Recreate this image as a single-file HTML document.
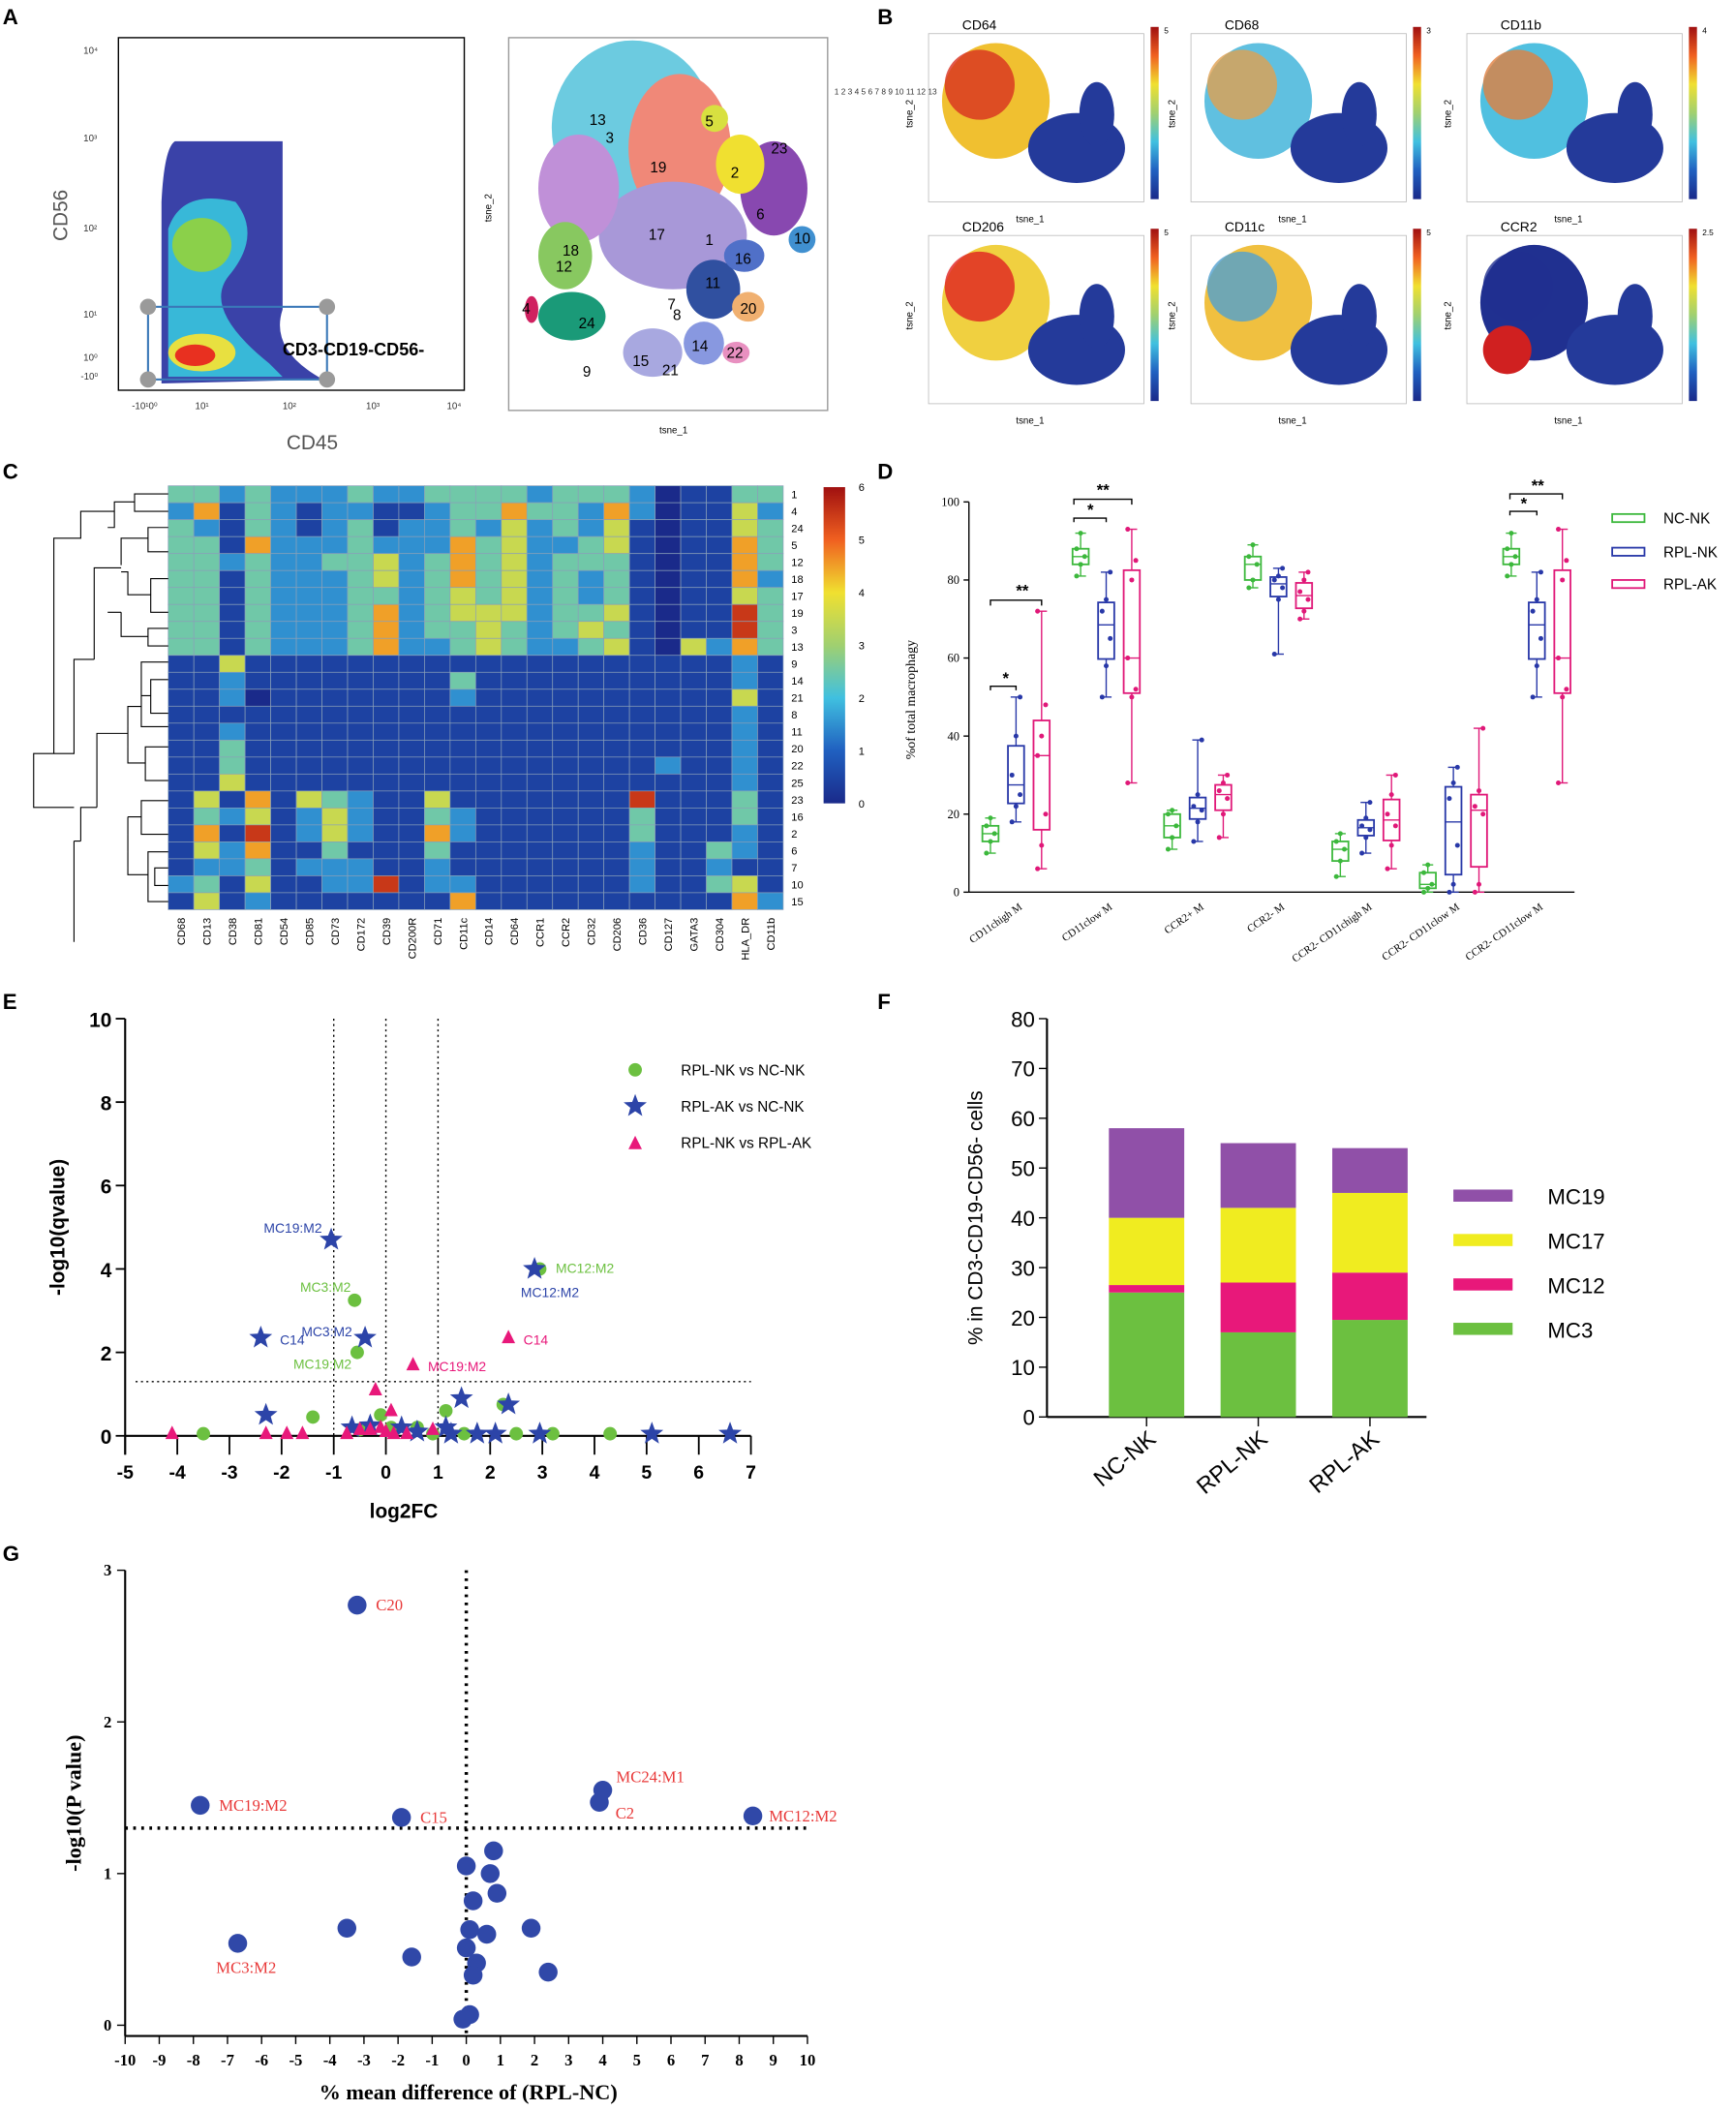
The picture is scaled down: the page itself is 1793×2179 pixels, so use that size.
<!DOCTYPE html>
<html><head><meta charset="utf-8"><style>
html,body{margin:0;padding:0;background:#fff}
svg{display:block}
svg{font-family:"Liberation Sans",sans-serif}
</style></head><body>
<svg id="fig" width="1793" height="2179" viewBox="0 0 1290 1568" preserveAspectRatio="none" xmlns="http://www.w3.org/2000/svg">
<g font-weight="bold" font-size="16">
<text x="2" y="18">A</text><text x="652" y="18">B</text><text x="2" y="356">C</text><text x="652" y="356">D</text>
<text x="2" y="750">E</text><text x="652" y="750">F</text><text x="2" y="1160">G</text>
</g>
<g>
<rect x="88" y="28" width="257" height="262" fill="none" stroke="#000"/>
<path d="M120 285 L120 150 Q122 110 130 105 L210 105 L210 230 Q200 260 240 282 Z" fill="#3a42a8"/>
<path d="M125 280 L125 170 Q135 140 175 150 Q195 175 170 205 Q150 230 200 270 L210 280 Z" fill="#38b8d8"/>
<ellipse cx="150" cy="182" rx="22" ry="20" fill="#8bd04a"/>
<ellipse cx="150" cy="262" rx="25" ry="14" fill="#e8e040"/>
<ellipse cx="145" cy="264" rx="15" ry="8" fill="#e83020"/>
<rect x="110" y="228" width="133" height="54" fill="none" stroke="#3a78b8" stroke-width="1.5"/>
<circle cx="110" cy="228" r="6" fill="#9a9a9a"/><circle cx="243" cy="228" r="6" fill="#9a9a9a"/>
<circle cx="110" cy="282" r="6" fill="#9a9a9a"/><circle cx="243" cy="282" r="6" fill="#9a9a9a"/>
<text x="210" y="264" font-size="13" font-weight="bold">CD3-CD19-CD56-</text>
<text x="50" y="160" font-size="15" fill="#555" transform="rotate(-90 50 160)" text-anchor="middle">CD56</text>
<text x="232" y="334" font-size="15" fill="#555" text-anchor="middle">CD45</text>
<g font-size="7" fill="#333"><text x="62" y="40">10⁴</text><text x="62" y="105">10³</text><text x="62" y="172">10²</text><text x="62" y="236">10¹</text><text x="62" y="268">10⁰</text><text x="60" y="282">-10⁰</text>
<text x="98" y="304">-10¹0⁰</text><text x="145" y="304">10¹</text><text x="210" y="304">10²</text><text x="272" y="304">10³</text><text x="332" y="304">10⁴</text></g>
</g>
<g>
<rect x="378" y="28" width="237" height="277" fill="none" stroke="#999"/>
<ellipse cx="470" cy="95" rx="60" ry="65" fill="#6ccbe0"/>
<ellipse cx="505" cy="110" rx="38" ry="55" fill="#f08878"/>
<ellipse cx="500" cy="175" rx="55" ry="40" fill="#a898d8"/>
<ellipse cx="430" cy="140" rx="30" ry="40" fill="#c090d8"/>
<ellipse cx="420" cy="190" rx="20" ry="25" fill="#88c860"/>
<ellipse cx="425" cy="235" rx="25" ry="18" fill="#1a9a78"/>
<ellipse cx="575" cy="140" rx="25" ry="35" fill="#8848b0"/>
<ellipse cx="550" cy="122" rx="18" ry="22" fill="#f0e030"/>
<ellipse cx="531" cy="88" rx="10" ry="10" fill="#d8e040"/>
<ellipse cx="530" cy="215" rx="20" ry="22" fill="#3050a0"/>
<ellipse cx="553" cy="190" rx="15" ry="12" fill="#5070c8"/>
<ellipse cx="556" cy="228" rx="12" ry="11" fill="#f0b070"/>
<ellipse cx="523" cy="255" rx="15" ry="16" fill="#8898e0"/>
<ellipse cx="485" cy="262" rx="22" ry="18" fill="#a8a8e0"/>
<ellipse cx="547" cy="262" rx="10" ry="8" fill="#e890c0"/>
<ellipse cx="596" cy="178" rx="10" ry="10" fill="#4090d0"/>
<ellipse cx="395" cy="230" rx="5" ry="10" fill="#d02060"/>
<g font-size="11"><text x="438" y="93">13</text><text x="450" y="106">3</text><text x="483" y="128">19</text><text x="482" y="178">17</text><text x="418" y="190">18</text><text x="413" y="202">12</text><text x="430" y="244">24</text><text x="524" y="94">5</text><text x="543" y="132">2</text><text x="573" y="114">23</text><text x="562" y="163">6</text><text x="590" y="181">10</text><text x="546" y="196">16</text><text x="524" y="182">1</text><text x="524" y="214">11</text><text x="550" y="233">20</text><text x="514" y="261">14</text><text x="540" y="266">22</text><text x="470" y="272">15</text><text x="492" y="279">21</text><text x="433" y="280">9</text><text x="496" y="230">7</text><text x="500" y="238">8</text><text x="388" y="233">4</text></g>
<text x="365" y="165" font-size="7" transform="rotate(-90 365 165)">tsne_2</text>
<text x="490" y="322" font-size="7">tsne_1</text>
<g font-size="6" fill="#333"><text x="620" y="70">1 2 3 4 5 6 7 8 9 10 11 12 13</text></g>
</g>
<g id="panelB"></g>
<g id="panelC"></g>
<g id="panelD"></g>
<g id="panelE"></g>
<g id="panelF"></g>
<g id="panelG"></g>
</svg>
<script>
const NS='http://www.w3.org/2000/svg';
function el(parent,tag,attrs,txt){const e=document.createElementNS(NS,tag);for(const k in attrs){if(k==='font-family')e.setAttribute('style','font-family:"'+attrs[k]+'",serif');else e.setAttribute(k,attrs[k]);}if(txt!==undefined)e.textContent=txt;parent.appendChild(e);return e;}

const featureNames=['CD64','CD68','CD11b','CD206','CD11c','CCR2'];
const featureMax=['5','3','4','5','5','2.5'];
(function(){const g=document.getElementById('panelB');
const pos=[[700,25],[895,25],[1100,25],[700,175],[895,175],[1100,175]];
const hot=[['#d83020','#f0c030'],['#e0a050','#60c0e0'],['#e08040','#50c0e0'],['#e02020','#f0d040'],['#50a0d0','#f0c040'],['#203090','#203090']];
featureNames.forEach((n,i)=>{const [x,y]=pos[i];
 const gg=el(g,'g',{});
 el(gg,'rect',{x:x-10,y:y,width:160,height:125,fill:'none',stroke:'#bbb','stroke-width':0.6});
 el(gg,'ellipse',{cx:x+40,cy:y+50,rx:40,ry:43,fill:hot[i][1]});
 el(gg,'ellipse',{cx:x+28,cy:y+38,rx:26,ry:26,fill:hot[i][0],opacity:0.8});
 el(gg,'ellipse',{cx:x+100,cy:y+85,rx:36,ry:26,fill:'#243a9a'});
 el(gg,'ellipse',{cx:x+115,cy:y+60,rx:13,ry:24,fill:'#243a9a'});
 if(i==5){el(gg,'ellipse',{cx:x+20,cy:y+85,rx:18,ry:18,fill:'#d02020'});}
 el(gg,'text',{x:x+15,y:y-3,'font-size':10},n);
 const cb=el(gg,'rect',{x:x+155,y:y-5,width:6,height:128});
 el(gg,'text',{x:x+165,y:y,'font-size':6},featureMax[i]);
 el(gg,'text',{x:x+55,y:y+140,'font-size':7},'tsne_1');
 el(gg,'text',{x:x-22,y:y+70,'font-size':7,transform:`rotate(-90 ${x-22} ${y+70})`},'tsne_2');
 cb.setAttribute('fill','url(#jet)');
});})();

(function(){const s=document.getElementById('fig');const d=el(s,'defs',{});const lg=el(d,'linearGradient',{id:'jet',x1:0,y1:1,x2:0,y2:0});
['#1a2a8a','#2060c0','#40c0e0','#a0d070','#f0e030','#f06020','#a01010'].forEach((c,i)=>el(lg,'stop',{offset:i/6,'stop-color':c}));})();

const hmRows=['1','4','24','5','12','18','17','19','3','13','9','14','21','8','11','20','22','25','23','16','2','6','7','10','15'];
const hmCols=['CD68','CD13','CD38','CD81','CD54','CD85','CD73','CD172','CD39','CD200R','CD71','CD11c','CD14','CD64','CCR1','CCR2','CD32','CD206','CD36','CD127','GATA3','CD304','HLA_DR','CD11b'];
const hmValues=[
[3,3,2,3,2,2,2,3,2,2,3,3,3,3,2,3,3,3,2,0,1,1,3,3],
[2,5,1,3,2,1,2,2,1,1,2,3,3,5,3,3,2,5,2,0,1,1,4,2],
[3,2,1,3,2,1,2,3,1,2,2,3,2,4,2,3,2,4,1,0,1,1,4,3],
[3,3,1,5,2,2,2,3,2,2,2,5,3,4,2,2,3,4,1,0,1,1,5,3],
[3,3,2,3,2,2,3,3,4,2,3,5,3,4,2,3,3,3,1,0,1,1,5,3],
[3,3,1,3,2,2,2,3,4,2,3,5,3,4,2,3,2,3,1,0,1,1,5,2],
[3,3,1,3,2,2,2,3,3,2,3,4,3,4,2,3,2,3,1,0,1,1,4,3],
[3,3,1,3,2,2,2,3,5,2,3,4,4,4,2,3,3,4,1,0,1,1,6,3],
[3,3,1,3,2,2,2,3,5,2,3,3,4,3,2,3,4,3,1,0,1,1,6,3],
[3,3,1,3,2,2,2,3,5,2,2,3,4,3,2,2,3,4,1,0,4,2,5,3],
[1,1,4,1,1,1,1,1,1,1,1,1,1,1,1,1,1,1,1,1,1,1,2,1],
[1,1,2,1,1,1,1,1,1,1,1,3,1,1,1,1,1,1,1,1,1,1,2,1],
[1,1,2,0,1,1,1,1,1,1,1,2,1,1,1,1,1,1,1,1,1,1,4,1],
[1,1,1,1,1,1,1,1,1,1,1,1,1,1,1,1,1,1,1,1,1,1,2,1],
[1,1,2,1,1,1,1,1,1,1,1,1,1,1,1,1,1,1,1,1,1,1,2,1],
[1,1,3,1,1,1,1,1,1,1,1,1,1,1,1,1,1,1,1,1,1,1,2,1],
[1,1,3,1,1,1,1,1,1,1,1,1,1,1,1,1,1,1,1,2,1,1,2,1],
[1,1,4,1,1,1,1,1,1,1,1,1,1,1,1,1,1,1,1,1,1,1,2,1],
[1,4,1,5,1,4,3,2,1,1,4,1,1,1,1,1,1,1,6,1,1,1,3,1],
[1,3,2,4,1,2,4,2,1,1,3,2,1,1,1,1,1,1,3,1,1,1,3,1],
[1,5,1,6,1,2,4,2,1,1,5,2,1,1,1,1,1,1,3,1,1,1,2,1],
[1,4,2,5,1,1,3,1,1,1,3,1,1,1,1,1,1,1,2,1,1,3,2,1],
[1,2,2,3,1,2,2,2,1,1,2,1,1,1,1,1,1,1,2,1,1,2,1,1],
[2,3,1,4,1,1,2,2,6,1,2,2,1,1,1,1,1,1,2,1,1,3,4,1],
[1,4,1,2,1,1,1,1,1,1,1,5,1,1,1,1,1,1,1,1,1,1,5,2]];
const hmTicks=['0','1','2','3','4','5','6'];
function jet(v){const c=[[26,42,138],[32,96,192],[64,192,224],[160,208,112],[240,224,48],[240,96,32],[160,16,16]];
 v=Math.max(0,Math.min(6,v));const i=Math.min(5,Math.floor(v)),t=v-i;const a=c[i],b=c[i+1];
 return `rgb(${a.map((x,k)=>Math.round(x+(b[k]-x)*t)).join(',')})`;}
(function(){const g=document.getElementById('panelC');const x0=125,y0=361,W=457,H=315;
const cw=W/hmCols.length,ch=H/hmRows.length;
hmValues.forEach((row,r)=>row.forEach((v,c)=>{const e=el(g,'rect',{x:x0+c*cw,y:y0+r*ch,width:cw,height:ch,fill:jet(v<=1?v*0.45:v-0.5),stroke:'#8aa0b8','stroke-width':0.5});
 }));
hmRows.forEach((n,r)=>el(g,'text',{x:x0+W+6,y:y0+r*ch+ch/2+3,'font-size':8},n));
hmCols.forEach((n,c)=>{const x=x0+c*cw+cw/2+3,y=y0+H+6;el(g,'text',{x:x,y:y,'font-size':8,'text-anchor':'end',transform:`rotate(-90 ${x} ${y})`},n);});
const cb=el(g,'rect',{x:612,y:362,width:16,height:235,fill:'url(#jet)'});
hmTicks.forEach((t,i)=>el(g,'text',{x:638,y:597-i*235/6+3,'font-size':8},t));
const d='M125 367 H100 V380 H125 M125 380 H115 M100 373 H85 V392 H80 M125 392 H110 V410 H125 M110 400 H90 V420 M125 430 H112 V455 H125 M112 442 H95 V425 H90 M90 422 H70 V490 M125 467 H110 V480 H125 M110 473 H90 V455 M90 455 H80 M125 492 H105 V540 H125 M125 505 H112 V530 H125 M112 517 H105 M125 555 H108 V580 H125 M108 567 H95 V525 H105 M95 545 H72 V600 M125 595 H105 V620 H125 M105 607 H95 M125 633 H110 V670 H125 M125 645 H115 V658 H125 M95 607 V650 H110 M72 600 H60 V625 M60 545 M70 490 H55 V560 H40 M40 560 V400 H60 V380 H85 M55 625 V700 M60 625 H55 M40 560 H25 V600 H55';
el(g,'path',{d:d,fill:'none',stroke:'#000','stroke-width':0.8});
})();

const boxCategories=['CD11c^high M','CD11c^low M','CCR2+ M','CCR2- M','CCR2- CD11c^high M','CCR2- CD11c^low M','CCR2- CD11c^low M'];
const boxNC=[[10,13,15,17,19],[81,84,86,88,92],[11,14,17,20,21],[78,80,84,86,89],[4,8,11,13,15],[0,1,2,5,7],[81,84,86,88,92]];
const boxRPLNK=[[18,22,25,30,40,50],[50,58,65,72,75,82],[13,18,21,22,25,39],[61,75,78,80,81,83],[10,14,16,17,19,23],[0,2,12,24,28,32],[50,58,65,72,75,82]];
const boxRPLAK=[[6,12,20,35,40,48,72],[28,50,52,60,80,85,93],[14,20,24,26,28,30],[70,72,75,77,80,82],[6,12,17,20,25,30],[0,2,20,22,26,42],[28,50,52,60,80,85,93]];
const boxTicks=[0,20,40,60,80,100];
(function(){const g=document.getElementById('panelD');const X0=720,yb=663,yt=373;const y=v=>yb-(v/100)*(yb-yt);
const cx=[755,822,890,950,1015,1080,1142];
el(g,'line',{x1:X0,y1:yt,x2:X0,y2:yb,stroke:'#000'});el(g,'line',{x1:X0,y1:yb,x2:1170,y2:yb,stroke:'#000'});
boxTicks.forEach(t=>{el(g,'line',{x1:X0-4,y1:y(t),x2:X0,y2:y(t),stroke:'#000'});el(g,'text',{x:X0-7,y:y(t)+3,'font-size':9,'text-anchor':'end','font-family':'Liberation Serif'},String(t));});
el(g,'text',{x:680,y:520,'font-size':10,'font-family':'Liberation Serif','text-anchor':'middle',transform:'rotate(-90 680 520)'},'%of total macrophagy');
const series=[[boxNC,'#3cb83c',-19],[boxRPLNK,'#2838a8',0],[boxRPLAK,'#e01878',19]];
function q(a,p){const s=[...a].sort((m,n)=>m-n);const i=(s.length-1)*p,l=Math.floor(i);return s[l]+(s[Math.min(l+1,s.length-1)]-s[l])*(i-l);}
boxCategories.forEach((c,i)=>{series.forEach(([d,col,off])=>{const a=d[i],x=cx[i]+off;
 const gg=el(g,'g',{});
 const mn=Math.min(...a),mx=Math.max(...a),q1=q(a,0.25),q3=q(a,0.75),md=q(a,0.5);
 el(gg,'line',{x1:x,y1:y(mn),x2:x,y2:y(mx),stroke:col});
 el(gg,'line',{x1:x-4,y1:y(mn),x2:x+4,y2:y(mn),stroke:col});el(gg,'line',{x1:x-4,y1:y(mx),x2:x+4,y2:y(mx),stroke:col});
 el(gg,'rect',{x:x-6,y:y(q3),width:12,height:y(q1)-y(q3),fill:'#fff',stroke:col,'stroke-width':1.3});
 el(gg,'line',{x1:x-6,y1:y(md),x2:x+6,y2:y(md),stroke:col});
 a.forEach((v,k)=>el(gg,'circle',{cx:x+((k%3)-1)*3,cy:y(v),r:1.8,fill:col}));});
 const tx=cx[i]+5,ty=yb+12;el(g,'text',{x:tx,y:ty,'font-size':8,'font-family':'Liberation Serif','text-anchor':'end',transform:`rotate(-35 ${tx} ${ty})`},c.replace('^',''));});
el(g,'path',{d:'M736 513 V510 H755 V513 M736 450 V446 H774 V450 M798 388 V385 H822 V388 M798 375 V371 H841 V375 M1122 383 V380 H1142 V383 M1122 371 V367 H1161 V371',fill:'none',stroke:'#000'});
[[745,508,'*'],[755,443,'**'],[808,383,'*'],[815,368,'**'],[1130,378,'*'],[1138,365,'**']].forEach(s=>el(g,'text',{x:s[0],y:s[1],'font-size':12,'font-weight':'bold'},s[2]));
[['NC-NK','#3cb83c',385],['RPL-NK','#2838a8',410],['RPL-AK','#e01878',434]].forEach(l=>{el(g,'rect',{x:1198,y:l[2]-3,width:24,height:6,fill:'none',stroke:l[1],'stroke-width':1.3});el(g,'text',{x:1236,y:l[2]+4,'font-size':11},l[0]);});
})();

const volX=[-5,-4,-3,-2,-1,0,1,2,3,4,5,6,7];
const volY=[0,2,4,6,8,10];
const greenFC=[-3.5,-1.4,-0.6,-0.55,-0.5,-0.1,0.1,0.6,1.15,2.25,2.95,3.2,4.3,2.5,0.9,1.5];
const greenQ=[0.05,0.45,3.25,2.0,0.15,0.5,0.2,0.2,0.6,0.75,4.0,0.05,0.05,0.05,0.05,0.05];
const blueFC=[-1.05,-2.4,-0.4,2.85,2.35,-2.3,1.45,6.6,5.1,2.95,2.1,1.75,1.25,0.3,-0.65,-0.3,0.6,1.15];
const blueQ=[4.7,2.35,2.35,4.0,0.75,0.5,0.9,0.05,0.05,0.05,0.05,0.05,0.05,0.2,0.2,0.25,0.1,0.2];
const pinkFC=[-4.1,-2.3,-1.9,-1.6,-0.75,-0.2,0.1,0.52,2.35,-0.5,-0.3,0.0,0.4,0.9,-0.1,0.15];
const pinkQ=[0.05,0.05,0.05,0.05,0.05,1.1,0.6,1.7,2.35,0.15,0.15,0.1,0.05,0.15,0.2,0.05];
(function(){const g=document.getElementById('panelE');const X=v=>93+(v+5)*38.75,Y=v=>1067-v*31;
el(g,'line',{x1:X(-5),y1:Y(10),x2:X(-5),y2:Y(0)+14,stroke:'#000','stroke-width':1.5});
el(g,'line',{x1:X(-5),y1:Y(0),x2:X(7),y2:Y(0),stroke:'#000','stroke-width':1.5});
volX.forEach(t=>{el(g,'line',{x1:X(t),y1:Y(0),x2:X(t),y2:Y(0)+14,stroke:'#000','stroke-width':1.3});el(g,'text',{x:X(t),y:Y(0)+32,'font-size':14,'font-weight':'bold','text-anchor':'middle'},String(t));});
volY.forEach(t=>{el(g,'line',{x1:X(-5)-7,y1:Y(t),x2:X(-5),y2:Y(t),stroke:'#000','stroke-width':1.3});el(g,'text',{x:X(-5)-10,y:Y(t)+6,'font-size':15,'font-weight':'bold','text-anchor':'end'},String(t));});
[-1,0,1].forEach(v=>el(g,'line',{x1:X(v),y1:Y(10),x2:X(v),y2:Y(0),stroke:'#000','stroke-dasharray':'1.5 2.5'}));
el(g,'line',{x1:X(-4.8),y1:Y(1.3),x2:X(7),y2:Y(1.3),stroke:'#000','stroke-dasharray':'1.5 2.5'});
el(g,'text',{x:300,y:1128,'font-size':15,'font-weight':'bold','text-anchor':'middle'},'log2FC');
el(g,'text',{x:48,y:912,'font-size':15,'font-weight':'bold','text-anchor':'middle',transform:'rotate(-90 48 912)'},'-log10(qvalue)');
function star(cx,cy,r,col){let p='';for(let i=0;i<10;i++){const a=-Math.PI/2+i*Math.PI/5,rr=i%2?r*0.42:r;p+=(i?'L':'M')+(cx+rr*Math.cos(a)).toFixed(1)+' '+(cy+rr*Math.sin(a)).toFixed(1);}return el(g,'path',{d:p+'Z',fill:col});}
greenFC.forEach((v,i)=>{const e=el(g,'circle',{cx:X(v),cy:Y(greenQ[i]),r:5,fill:'#6cc040'});});
blueFC.forEach((v,i)=>{const e=star(X(v),Y(blueQ[i]),9,'#2c44a8');});
pinkFC.forEach((v,i)=>{const x=X(v),y=Y(pinkQ[i]);const e=el(g,'path',{d:`M${x} ${y-6}L${x+5} ${y+4}L${x-5} ${y+4}Z`,fill:'#e8187a'});});
[[196,916,'MC19:M2','#2c44a8'],[223,960,'MC3:M2','#6cc040'],[208,999,'C14','#2c44a8'],[224,993,'MC3:M2','#2c44a8'],[218,1017,'MC19:M2','#6cc040'],[318,1019,'MC19:M2','#e8187a'],[389,999,'C14','#e8187a'],[413,946,'MC12:M2','#6cc040'],[387,964,'MC12:M2','#2c44a8']].forEach(l=>el(g,'text',{x:l[0],y:l[1],'font-size':10,fill:l[3]},l[2]));
el(g,'circle',{cx:472,cy:795,r:5,fill:'#6cc040'});star(472,822,9,'#2c44a8');el(g,'path',{d:'M472 844L477 854L467 854Z',fill:'#e8187a'});
[['RPL-NK vs NC-NK',799],['RPL-AK vs NC-NK',826],['RPL-NK vs RPL-AK',853]].forEach(l=>el(g,'text',{x:506,y:l[1],'font-size':11},l[0]));
})();

const barGroups=['NC-NK','RPL-NK','RPL-AK'];
const mc3=[25,17,19.5];
const mc12=[1.5,10,9.5];
const mc17=[13.5,15,16];
const mc19=[18,13,9];
const barTicks=[0,10,20,30,40,50,60,70,80];
(function(){const g=document.getElementById('panelF');const Y=v=>1053-v*3.7;const X0=778;
el(g,'line',{x1:X0,y1:Y(80),x2:X0,y2:Y(0),stroke:'#000','stroke-width':1.5});el(g,'line',{x1:X0,y1:Y(0),x2:1060,y2:Y(0),stroke:'#000','stroke-width':1.5});
barTicks.forEach(t=>{el(g,'line',{x1:X0-6,y1:Y(t),x2:X0,y2:Y(t),stroke:'#000'});el(g,'text',{x:X0-9,y:Y(t)+6,'font-size':16,'text-anchor':'end'},String(t));});
el(g,'text',{x:730,y:905,'font-size':15,'text-anchor':'middle',transform:'rotate(-90 730 905)'},'% in CD3-CD19-CD56- cells');
const cols=['#6cc040','#e8187a','#f0ec20','#9050a8'];const names=['MC3','MC12','MC17','MC19'];const data=[mc3,mc12,mc17,mc19];
barGroups.forEach((b,i)=>{const cx=852+i*83;let acc=0;data.forEach((d,k)=>{const e=el(g,'rect',{x:cx-28,y:Y(acc+d[i]),width:56,height:Y(acc)-Y(acc+d[i]),fill:cols[k]});acc+=d[i];});
 el(g,'line',{x1:cx,y1:Y(0),x2:cx,y2:Y(0)+7,stroke:'#000'});
 const tx=cx+8,ty=Y(0)+18;el(g,'text',{x:tx,y:ty,'font-size':17,'text-anchor':'end',transform:`rotate(-40 ${tx} ${ty})`},b);});
[3,2,1,0].forEach((k,j)=>{const y=888+j*33;el(g,'rect',{x:1080,y:y-4,width:44,height:9,fill:cols[k]});el(g,'text',{x:1150,y:y+7,'font-size':16},names[k]);});
})();

const gX=[-10,-9,-8,-7,-6,-5,-4,-3,-2,-1,0,1,2,3,4,5,6,7,8,9,10];
const gY=[0,1,2,3];
const meanDiff=[-3.2,-7.8,-1.9,4.0,3.9,8.4,-6.7,-3.5,-1.6,0.8,0.0,0.7,0.9,0.2,0.1,0.6,1.9,0.0,0.3,0.2,2.4,0.1,-0.1];
const logP=[2.77,1.45,1.37,1.55,1.47,1.38,0.54,0.64,0.45,1.15,1.05,1.0,0.87,0.82,0.63,0.6,0.64,0.51,0.41,0.33,0.35,0.07,0.04];
const gLabels=['C20','MC19:M2','C15','MC24:M1','C2','MC12:M2','MC3:M2'];
(function(){const g=document.getElementById('panelG');const X=v=>93+(v+10)*25.35,Y=v=>1505-v*112.7;
el(g,'line',{x1:X(-10),y1:Y(3),x2:X(-10),y2:Y(0)+8,stroke:'#000','stroke-width':1.5});el(g,'line',{x1:X(-10),y1:Y(0)+8,x2:X(10),y2:Y(0)+8,stroke:'#000','stroke-width':1.5});
gX.forEach(t=>{el(g,'line',{x1:X(t),y1:Y(0)+8,x2:X(t),y2:Y(0)+14,stroke:'#000'});el(g,'text',{x:X(t),y:Y(0)+30,'font-size':12,'font-weight':'bold','text-anchor':'middle','font-family':'Liberation Serif'},String(t));});
gY.forEach(t=>{el(g,'line',{x1:X(-10)-6,y1:Y(t),x2:X(-10),y2:Y(t),stroke:'#000'});el(g,'text',{x:X(-10)-10,y:Y(t)+4,'font-size':12,'font-weight':'bold','text-anchor':'end','font-family':'Liberation Serif'},String(t));});
el(g,'line',{x1:X(0),y1:Y(3),x2:X(0),y2:Y(0)+8,stroke:'#000','stroke-width':2.5,'stroke-dasharray':'2 4'});
el(g,'line',{x1:X(-10),y1:Y(1.3),x2:X(10),y2:Y(1.3),stroke:'#000','stroke-width':2.5,'stroke-dasharray':'2 4'});
el(g,'text',{x:348,y:1560,'font-size':16,'font-weight':'bold','text-anchor':'middle','font-family':'Liberation Serif'},'% mean difference of (RPL-NC)');
el(g,'text',{x:60,y:1340,'font-size':16,'font-weight':'bold','text-anchor':'middle','font-family':'Liberation Serif',transform:'rotate(-90 60 1340)'},'-log10(P value)');
meanDiff.forEach((v,i)=>{const e=el(g,'circle',{cx:X(v),cy:Y(logP[i]),r:7,fill:'#3048a8'});});
const off=[[14,4],[14,4],[14,4],[10,-6],[12,12],[12,4],[-16,22]];
gLabels.forEach((l,i)=>el(g,'text',{x:X(meanDiff[i])+off[i][0],y:Y(logP[i])+off[i][1],'font-size':12,fill:'#e83838','font-family':'Liberation Serif'},l));
})();
</script>
</body></html>
